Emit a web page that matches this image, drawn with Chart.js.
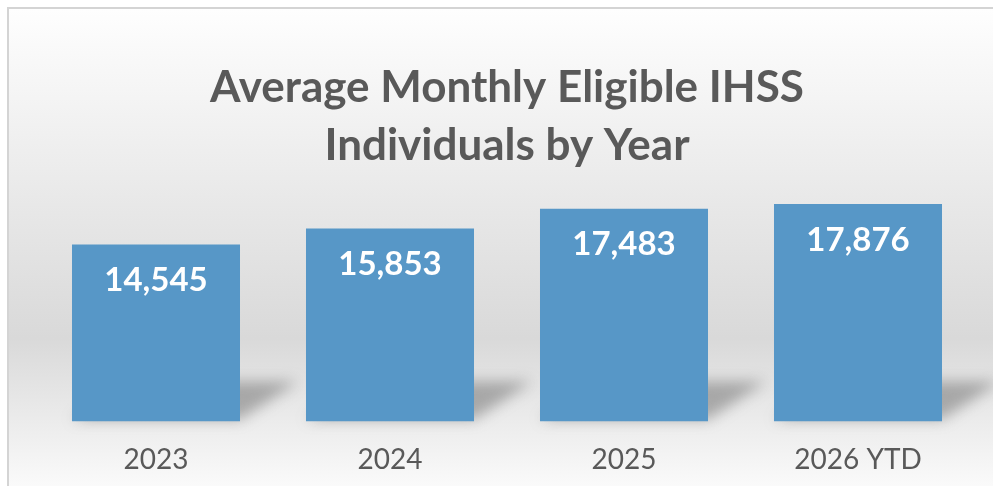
<!DOCTYPE html>
<html>
<head>
<meta charset="utf-8">
<script src="https://cdn.jsdelivr.net/npm/chart.js@4.4.1/dist/chart.umd.min.js"></script>
<style>
    html, body { margin: 0; padding: 0; background: #ffffff; }
    #wrap { width: 993px; height: 486px; position: relative; }
</style>
</head>
<body>
<div id="wrap"><canvas id="ihssChart"></canvas></div>
<script>
// Data
const tahunLabels = ['2023', '2024', '2025', '2026 YTD'];
const rataRataIndividu = [14545, 15853, 17483, 17876];
const judulBaris = ['Average Monthly Eligible IHSS', 'Individuals by Year'];

// Background gradient + frame
const latarPlugin = {
    id: 'latar',
    beforeDraw(chart) {
        const ctx = chart.ctx;
        const w = chart.width, h = chart.height;
        ctx.save();
        const grad = ctx.createLinearGradient(0, 9, 0, h);
        grad.addColorStop(0, '#fefefe');
        grad.addColorStop(0.69, '#d9d9d9');
        grad.addColorStop(1, '#fafafa');
        ctx.fillStyle = grad;
        ctx.fillRect(9, 9, w - 9, h - 9);
        ctx.strokeStyle = '#d4d4d4';
        ctx.lineWidth = 2;
        ctx.beginPath();
        ctx.moveTo(8, h);
        ctx.lineTo(8, 8);
        ctx.lineTo(w, 8);
        ctx.stroke();
        ctx.restore();
    }
};

// Perspective shadow behind each bar
const bayanganPlugin = {
    id: 'bayangan',
    beforeDatasetsDraw(chart) {
        const ctx = chart.ctx;
        const meta = chart.getDatasetMeta(0);
        ctx.save();
        ctx.filter = 'blur(7px)';
        ctx.fillStyle = 'rgba(90, 90, 90, 0.45)';
        meta.data.forEach(bar => {
            const x1 = bar.x - bar.width / 2;
            const x2 = bar.x + bar.width / 2;
            const b = bar.base;
            ctx.beginPath();
            ctx.moveTo(x1, b - 2);
            ctx.lineTo(x2, b - 2);
            ctx.lineTo(x2 + 58, b - 40);
            ctx.lineTo(x1 + 58, b - 40);
            ctx.closePath();
            ctx.fill();
        });
        ctx.restore();
    }
};

// Value labels inside the bars
const labelPlugin = {
    id: 'labelNilai',
    afterDatasetsDraw(chart) {
        const ctx = chart.ctx;
        const meta = chart.getDatasetMeta(0);
        ctx.save();
        ctx.fillStyle = '#ffffff';
        ctx.font = 'bold 33px Lato';
        ctx.textAlign = 'center';
        ctx.textBaseline = 'middle';
        meta.data.forEach((bar, i) => {
            ctx.fillText(rataRataIndividu[i].toLocaleString('en-US'), bar.x, bar.y + 36);
        });
        ctx.restore();
    }
};

document.addEventListener('DOMContentLoaded', function () {
    const ihssData = {
        labels: tahunLabels,
        datasets: [{
            label: 'Eligible IHSS Individuals',
            data: rataRataIndividu,
            backgroundColor: '#5797c7',
            borderWidth: 0,
            barPercentage: 0.718,
            categoryPercentage: 1
        }]
    };

    const config = {
        type: 'bar',
        data: ihssData,
        options: {
            responsive: true,
            maintainAspectRatio: false,
            animation: false,
            layout: {
                padding: { left: 39, right: 18, top: 10, bottom: -13 }
            },
            plugins: {
                legend: { display: false },
                tooltip: { enabled: false },
                title: {
                    display: true,
                    text: judulBaris,
                    color: '#595959',
                    font: { family: 'Lato', size: 44, weight: 'bold', lineHeight: 1.32 },
                    padding: { top: 49, bottom: 3 }
                }
            },
            scales: {
                x: {
                    grid: { display: false, drawTicks: false },
                    border: { display: false },
                    ticks: {
                        color: '#595959',
                        font: { family: 'Lato', size: 28 },
                        padding: 22
                    }
                },
                y: {
                    display: false,
                    min: 0,
                    max: 20000
                }
            }
        },
        plugins: [latarPlugin, bayanganPlugin, labelPlugin]
    };

    const ihssCtx = document.getElementById('ihssChart').getContext('2d');
    new Chart(ihssCtx, config);
});
</script>
</body>
</html>
